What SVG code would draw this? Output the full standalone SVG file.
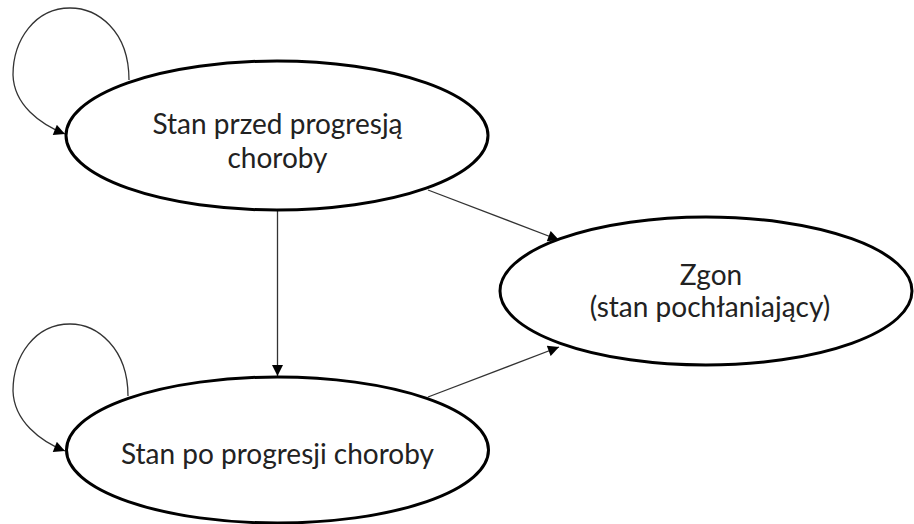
<svg xmlns="http://www.w3.org/2000/svg" width="914" height="524" viewBox="0 0 914 524">
<defs>
<style>
.node{fill:#fff;stroke:#000;stroke-width:3}
.lbl{font-family:Lato,"Open Sans","Liberation Sans",sans-serif;font-size:28px;fill:#222;text-anchor:middle}
.edge{fill:none;stroke:#333;stroke-width:1.3}
</style>
<marker id="ah" viewBox="0 0 10 10" refX="10" refY="5" markerWidth="13" markerHeight="11" markerUnits="userSpaceOnUse" orient="auto">
<path d="M0,0 L10,5 L0,10 z" fill="#000"/>
</marker>
</defs>
<rect width="914" height="524" fill="#fff"/>
<g id="connectors">
<path class="edge" d="M129,80 C129,30 97,8 70,8 C35,8 13,40 13,75 C14,105 40,124 65,134" marker-end="url(#ah)"/>
<path class="edge" d="M128,396 C128,348 97,324 70,324 C35,324 13,356 13,391 C14,421 40,441 65,451" marker-end="url(#ah)"/>
<path class="edge" d="M277.5,210 L277.5,376" marker-end="url(#ah)"/>
<path class="edge" d="M428,190 L559,240" marker-end="url(#ah)"/>
<path class="edge" d="M428,397 L559,347" marker-end="url(#ah)"/>
</g>
<g id="node-pre">
<ellipse class="node" cx="277" cy="135.5" rx="211" ry="74.5"/>
<text class="lbl" x="277.5" y="134">Stan przed progresją</text>
<text class="lbl" x="277.5" y="168">choroby</text>
</g>
<g id="node-zgon">
<ellipse class="node" cx="706" cy="291" rx="206" ry="74"/>
<text class="lbl" x="711" y="285">Zgon</text>
<text class="lbl" x="710" y="317">(stan pochłaniający)</text>
</g>
<g id="node-post">
<ellipse class="node" cx="277.5" cy="450" rx="211" ry="73"/>
<text class="lbl" x="277.5" y="464">Stan po progresji choroby</text>
</g>
</svg>
